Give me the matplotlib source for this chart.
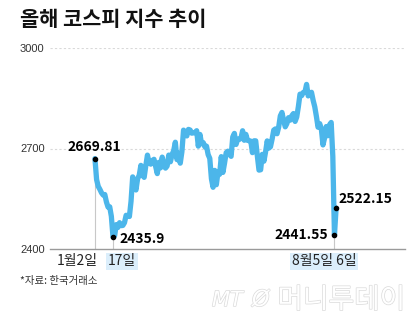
import matplotlib
matplotlib.use("Agg")
import matplotlib.pyplot as plt
import matplotlib.patheffects as pe
import numpy as np

plt.rcParams['font.family'] = ['Noto Sans CJK KR', 'DejaVu Sans']

# KOSPI daily closes, 2024-01-02 .. 2024-08-06 (trading days)
jan = [2669.81, 2607.31, 2587.02, 2578.08, 2567.82, 2561.24, 2562.71, 2540.27,
       2525.05, 2525.99, 2497.59, 2435.90, 2440.04, 2472.74, 2464.35, 2478.61,
       2469.69, 2470.34, 2478.56, 2500.65, 2498.81, 2497.09]
feb = [2542.46, 2615.31, 2591.31, 2576.20, 2609.58, 2620.32, 2649.64, 2620.42,
       2613.80, 2648.76, 2680.26, 2657.79, 2653.31, 2664.27, 2667.70, 2647.08,
       2625.05, 2658.84, 2642.36]
mar = [2674.27, 2649.40, 2641.49, 2647.62, 2680.35, 2660.40, 2681.81, 2693.57,
       2718.76, 2666.84, 2685.84, 2656.17, 2690.14, 2754.86, 2748.56, 2737.57,
       2757.09, 2755.11, 2745.82, 2746.63]
apr = [2747.86, 2753.16, 2706.97, 2742.00, 2714.21, 2717.65, 2705.16, 2706.96,
       2681.82, 2670.43, 2609.63, 2584.18, 2634.70, 2591.86, 2629.44, 2623.02,
       2675.75, 2628.62, 2656.33, 2687.44, 2692.06]
may = [2683.65, 2676.63, 2734.36, 2745.05, 2712.14, 2727.63, 2727.21, 2730.34,
       2753.00, 2724.62, 2742.14, 2724.18, 2723.46, 2721.81, 2687.60, 2722.99,
       2722.85, 2677.30, 2635.44, 2636.52]
jun = [2682.52, 2662.10, 2689.50, 2722.67, 2701.17, 2705.30, 2728.17, 2754.89,
       2758.42, 2744.10, 2763.92, 2797.33, 2807.63, 2784.06, 2764.73, 2774.39,
       2792.05, 2784.51, 2797.82]
jul = [2804.31, 2780.86, 2794.01, 2824.94, 2862.23, 2857.76, 2867.38, 2867.99,
       2891.35, 2857.00, 2860.92, 2867.82, 2843.89, 2824.35, 2795.46, 2763.51,
       2774.29, 2758.71, 2710.65, 2731.90, 2765.52, 2738.19, 2770.69]
aug = [2777.68, 2676.19, 2441.55, 2522.15]

closes = np.array(jan + feb + mar + apr + may + jun + jul + aug)
days = np.arange(len(closes))

yticks = [2400, 2700, 3000]
# annotated trading days
i_start, i_low, i_crash, i_rebound = 0, 11, len(closes) - 2, len(closes) - 1

LINE = '#4cb6ea'
HL = '#dbeefb'

fig = plt.figure(figsize=(4.2, 3.25), dpi=100)
fig.patch.set_facecolor('white')
ax = fig.add_axes([50 / 420, 76 / 325, 355 / 420, 201 / 325])

ax.set_xlim(-27.4, 189)
ax.set_ylim(2400, 3000)

for s in ['top', 'right', 'left']:
    ax.spines[s].set_visible(False)
ax.spines['bottom'].set_color('#9a9a9a')
ax.spines['bottom'].set_linewidth(1.0)

ax.set_yticks(yticks)
ax.set_yticklabels([str(v) for v in yticks], fontsize=8, color='#333333',
                   family=['Liberation Sans Narrow', 'Liberation Sans', 'DejaVu Sans'])
ax.tick_params(axis='y', length=0, pad=0)
for lbl in ax.get_yticklabels():
    lbl.set_horizontalalignment('left')
    lbl.set_x(-30 / 355)
ax.set_xticks([])
for v in yticks[1:]:
    ax.axhline(v, color='#d9d9d9', lw=0.8, ls=(0, (2, 2)), zorder=0)

# drop lines from annotated points
for i in [i_start, i_low, i_crash]:
    ax.plot([days[i], days[i]], [2400, closes[i]], color='#c8c8c8', lw=0.8, zorder=1)

ax.plot(days, closes, color=LINE, lw=3.8, solid_joinstyle='round',
        solid_capstyle='round', zorder=2, clip_on=False)

pts = [i_start, i_low, i_crash, i_rebound]
ax.scatter(days[pts], closes[pts], s=9, color='black', zorder=3, clip_on=False)

vfont = dict(fontsize=10, fontweight='bold', color='black',
             family=['Noto Sans CJK KR', 'DejaVu Sans'])
ax.annotate(f'{closes[i_start]:.2f}', (days[i_start], closes[i_start]),
            xytext=(-1, 5), textcoords='offset pixels', ha='center', va='bottom', **vfont)
ax.annotate(f'{closes[i_low]:.1f}', (days[i_low], closes[i_low]),
            xytext=(6, -2), textcoords='offset pixels', ha='left', va='center', **vfont)
ax.annotate(f'{closes[i_crash]:.2f}', (days[i_crash], closes[i_crash]),
            xytext=(-6, 0), textcoords='offset pixels', ha='right', va='center', **vfont)
ax.annotate(f'{closes[i_rebound]:.2f}', (days[i_rebound], closes[i_rebound]),
            xytext=(2, 9), textcoords='offset pixels', ha='left', va='center', **vfont)

# date labels under the axis
tfont = dict(fontsize=10, color='#222222', va='center')
trans = ax.get_xaxis_transform()
ax.text(days[i_start] + 1.5, -0.062, '1월2일', transform=trans, ha='right', **tfont)
ax.text(days[i_low] - 3, -0.062, '17일', transform=trans, ha='left',
        bbox=dict(boxstyle='square,pad=0.12', fc=HL, ec='none'), **tfont)
ax.text(days[i_crash] - 26, -0.062, '8월5일 6일', transform=trans, ha='left',
        bbox=dict(boxstyle='square,pad=0.12', fc=HL, ec='none'), **tfont)

fig.text(20 / 420, 1 - 19 / 325, '올해 코스피 지수 추이', fontsize=15, fontweight='bold',
         color='#111111', ha='left', va='center')
fig.text(20 / 420, 1 - 281 / 325, '*자료: 한국거래소', fontsize=7.5, color='#333333',
         ha='left', va='center')

# publisher mark
mark = [pe.Stroke(linewidth=1.0, foreground='#dadada'), pe.Normal()]
fig.text(212 / 420, 1 - 300 / 325, 'MT', fontsize=15, style='italic', color='white',
         ha='left', va='center', family=['DejaVu Sans'], path_effects=mark)
fig.text(252 / 420, 1 - 300 / 325, 'Ø', fontsize=16, style='italic', color='white',
         ha='left', va='center', family=['DejaVu Sans'], path_effects=mark)
fig.text(405 / 420, 1 - 300 / 325, '머니투데이', fontsize=20, color='white',
         ha='right', va='center', path_effects=mark)

fig.savefig('out.png', dpi=100, facecolor='white')
